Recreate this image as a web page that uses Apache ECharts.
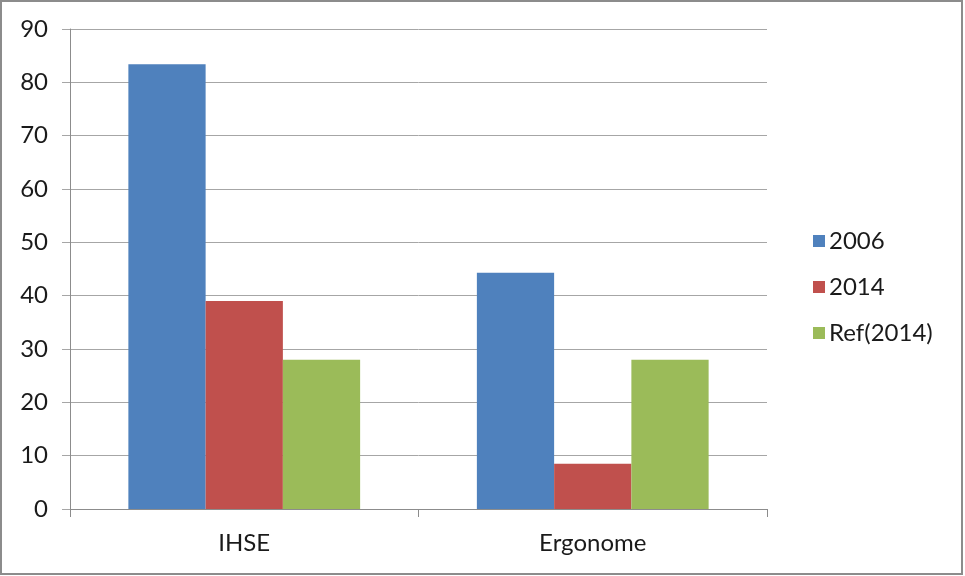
<!DOCTYPE html>
<html>
<head>
<meta charset="utf-8">
<script src="https://cdn.jsdelivr.net/npm/echarts@6/dist/echarts.min.js"></script>
<style>
  html, body { margin: 0; padding: 0; background: #fff; }
  #chart { width: 965px; height: 576px; }
</style>
</head>
<body>
<div id="chart"></div>
<script>
// data
const categories = ["IHSE", "Ergonome"];
const seriesNames = ["2006", "2014", "Ref(2014)"];
const values2006 = [83.4, 44.3];
const values2014 = [39, 8.5];
const valuesRef2014 = [28, 28];
const colors = ["#4F81BD", "#C0504D", "#9BBB59"];

const fontFamily = "Lato, 'Open Sans', sans-serif";
const chart = echarts.init(document.getElementById("chart"));

const mkSeries = (name, data, color) => ({
  name: name,
  type: "bar",
  data: data,
  barGap: "0%",
  barCategoryGap: "33.5%",
  itemStyle: { color: color },
  emphasis: { disabled: true },
});

chart.setOption({
  animation: false,
  backgroundColor: "#fff",
  textStyle: { fontFamily: fontFamily },
  graphic: [
    {
      type: "rect",
      shape: { x: 1, y: 1, width: 961, height: 573 },
      style: { fill: "none", stroke: "#8c8c8c", lineWidth: 2 },
      silent: true,
    },
  ],
  grid: { left: 70, right: 198, top: 29, bottom: 67 },
  legend: {
    orient: "vertical",
    left: 808,
    top: 224,
    itemWidth: 12,
    itemHeight: 12,
    itemGap: 22,
    icon: "rect",
    data: seriesNames,
    textStyle: { fontSize: 24, color: "#1a1a1a", fontFamily: fontFamily, padding: [0, 0, 0, -1] },
  },
  xAxis: {
    type: "category",
    data: categories,
    axisLine: { lineStyle: { color: "#8c8c8c", width: 1 } },
    axisTick: { show: true, length: 8, lineStyle: { color: "#8c8c8c" } },
    axisLabel: { fontSize: 24, color: "#1a1a1a", margin: 22 },
  },
  yAxis: {
    type: "value",
    min: 0,
    max: 90,
    interval: 10,
    axisLine: { show: true, lineStyle: { color: "#8c8c8c", width: 1 } },
    axisTick: { show: true, length: 8, lineStyle: { color: "#a6a6a6" } },
    axisLabel: { fontSize: 24, color: "#1a1a1a", margin: 22 },
    splitLine: { lineStyle: { color: "#a6a6a6", width: 1 } },
  },
  series: [
    mkSeries(seriesNames[0], values2006, colors[0]),
    mkSeries(seriesNames[1], values2014, colors[1]),
    mkSeries(seriesNames[2], valuesRef2014, colors[2]),
  ],
});
</script>
</body>
</html>
